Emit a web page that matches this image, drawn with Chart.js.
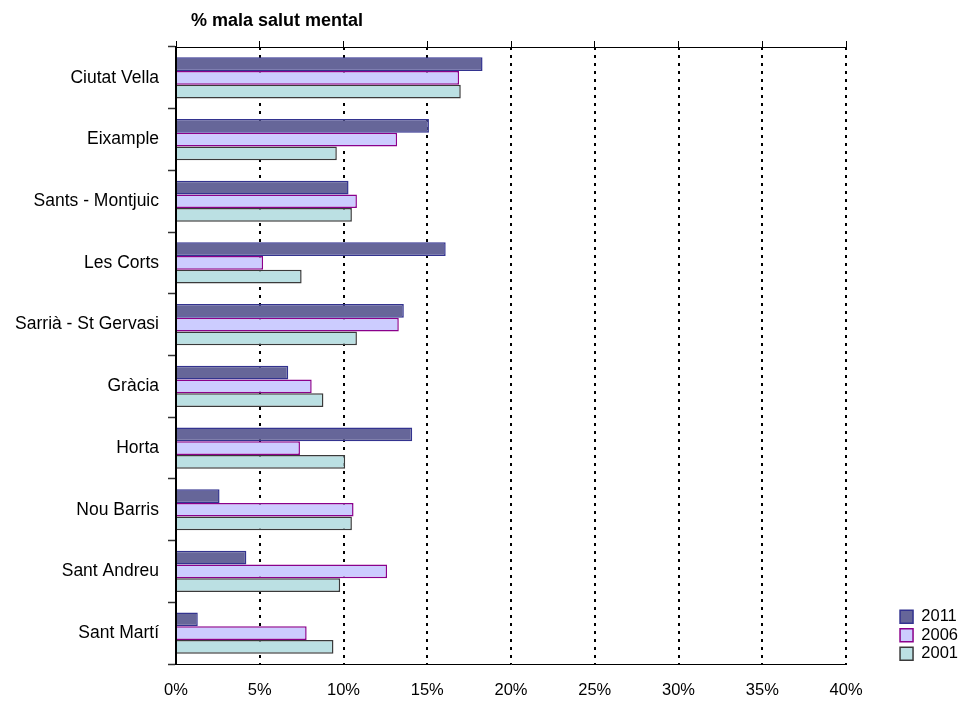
<!DOCTYPE html>
<html>
<head>
<meta charset="utf-8">
<title>% mala salut mental</title>
<script src="https://cdn.jsdelivr.net/npm/chart.js@4.4.1/dist/chart.umd.min.js"></script>
<style>
  html, body { margin: 0; padding: 0; background: #ffffff; }
  #wrap { position: relative; width: 961px; height: 707px; }
</style>
</head>
<body>
<div id="wrap"><canvas id="chart" width="961" height="707"></canvas></div>
<script>
// Districts, top to bottom
const categories = [
  'Ciutat Vella', 'Eixample', 'Sants - Montjuic', 'Les Corts',
  'Sarrià - St Gervasi', 'Gràcia', 'Horta', 'Nou Barris',
  'Sant Andreu', 'Sant Martí'
];

// Share of people reporting poor mental health (%)
const values2011 = [18.3, 15.1, 10.3, 16.1, 13.6, 6.7, 14.1, 2.6, 4.2, 1.3];
const values2006 = [16.9, 13.2, 10.8, 5.2, 13.3, 8.1, 7.4, 10.6, 12.6, 7.8];
const values2001 = [17.0, 9.6, 10.5, 7.5, 10.8, 8.8, 10.1, 10.5, 9.8, 9.4];

const seriesNames = ['2011', '2006', '2001'];
const axisMin = 0;
const axisMax = 40;
const axisStep = 5;

const chartTitle = '% mala salut mental';
const FONT = "'Liberation Sans', Arial, sans-serif";

// Heading drawn above the plot, left-aligned near the value axis origin
const headingPlugin = {
  id: 'heading',
  afterDraw(chart) {
    const { ctx, chartArea } = chart;
    ctx.save();
    ctx.font = 'bold 18px ' + FONT;
    ctx.fillStyle = '#000000';
    ctx.textAlign = 'left';
    ctx.textBaseline = 'middle';
    ctx.fillText(chartTitle, chartArea.left + 15, 21);
    ctx.restore();
  }
};

const ctx = document.getElementById('chart').getContext('2d');
new Chart(ctx, {
  type: 'bar',
  data: {
    labels: categories,
    datasets: [
      {
        label: seriesNames[0],
        data: values2011,
        backgroundColor: '#666699',
        borderColor: '#33338f',
        borderWidth: 1.5
      },
      {
        label: seriesNames[1],
        data: values2006,
        backgroundColor: '#ccccff',
        borderColor: '#8b008b',
        borderWidth: 1.5
      },
      {
        label: seriesNames[2],
        data: values2001,
        backgroundColor: '#bbe0e3',
        borderColor: '#3a3a3a',
        borderWidth: 1.5
      }
    ]
  },
  options: {
    indexAxis: 'y',
    responsive: false,
    animation: false,
    devicePixelRatio: 1,
    layout: { padding: { top: 0, right: -7, bottom: 0, left: 0 } },
    datasets: {
      bar: { barPercentage: 1.0, categoryPercentage: 0.667 }
    },
    scales: {
      x: {
        position: 'bottom',
        min: axisMin,
        max: axisMax,
        ticks: {
          stepSize: axisStep,
          color: '#000000',
          font: { family: FONT, size: 16.5 },
          padding: 17,
          callback: (v) => v + '%'
        },
        grid: {
          color: '#000000',
          lineWidth: 2,
          drawTicks: false
        },
        border: {
          display: true,
          color: '#000000',
          width: 1,
          dash: [3, 5]
        },
        afterFit: (s) => { s.height = 43; }
      },
      xTop: {
        position: 'top',
        min: axisMin,
        max: axisMax,
        ticks: { stepSize: axisStep, display: false },
        grid: {
          drawOnChartArea: false,
          drawTicks: true,
          tickLength: 6,
          tickColor: '#000000',
          tickWidth: 1
        },
        border: { display: true, color: '#000000', width: 1 },
        afterFit: (s) => { s.height = 47; }
      },
      y: {
        position: 'left',
        ticks: {
          color: '#000000',
          font: { family: FONT, size: 17.5 },
          padding: 9
        },
        grid: {
          offset: true,
          drawOnChartArea: false,
          drawTicks: true,
          tickLength: 8,
          tickColor: '#333333',
          tickWidth: 1.5
        },
        border: { display: true, color: '#000000', width: 2 },
        afterFit: (s) => { s.width = 176; }
      },
      legendGap: {
        type: 'category',
        position: 'right',
        display: true,
        ticks: { display: false },
        grid: { display: false },
        border: { display: false },
        afterFit: (s) => { s.width = 52; }
      }
    },
    plugins: {
      legend: {
        display: true,
        position: 'right',
        align: 'end',
        fullSize: false,
        labels: {
          color: '#000000',
          font: { family: FONT, size: 16.5 },
          boxWidth: 13,
          boxHeight: 13,
          padding: 2
        }
      },
      tooltip: { enabled: false }
    }
  },
  plugins: [headingPlugin]
});
</script>
</body>
</html>
